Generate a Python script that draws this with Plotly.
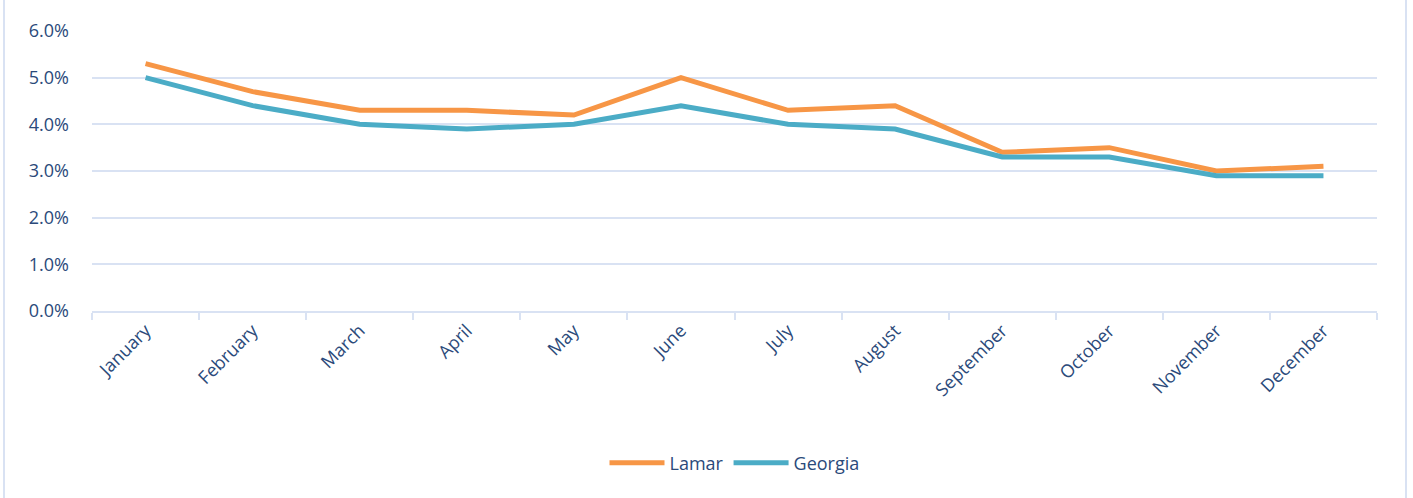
import plotly.graph_objects as go

months = ["January", "February", "March", "April", "May", "June", "July",
          "August", "September", "October", "November", "December"]
lamar = [5.3, 4.7, 4.3, 4.3, 4.2, 5.0, 4.3, 4.4, 3.4, 3.5, 3.0, 3.1]
georgia = [5.0, 4.4, 4.0, 3.9, 4.0, 4.4, 4.0, 3.9, 3.3, 3.3, 2.9, 2.9]
y_ticks = [0, 1, 2, 3, 4, 5, 6]

text_color = "#2B4A7A"
grid_color = "#D9E2F3"
font_family = "'Open Sans', Lato, sans-serif"

fig = go.Figure()
fig.add_trace(go.Scatter(x=months, y=[v / 100 for v in lamar], name="Lamar",
                         mode="lines", line=dict(color="#F79646", width=5)))
fig.add_trace(go.Scatter(x=months, y=[v / 100 for v in georgia], name="Georgia",
                         mode="lines", line=dict(color="#4BACC6", width=5)))

W, H = 1413, 498
l, t = 92, 31
pw, ph = 1285, 280
r, b = W - l - pw, H - t - ph

def px_to_paper_x(px):
    return (px - l) / pw

def px_to_paper_y(py):
    return (t + ph - py) / ph

shapes = []
for xp in (4, 1406):
    shapes.append(dict(type="line", xref="paper", yref="paper",
                       x0=px_to_paper_x(xp), x1=px_to_paper_x(xp),
                       y0=px_to_paper_y(0), y1=px_to_paper_y(H),
                       line=dict(color=grid_color, width=2)))

fig.update_layout(
    width=W, height=H,
    margin=dict(l=l, r=r, t=t, b=b, autoexpand=False),
    paper_bgcolor="white", plot_bgcolor="white",
    font=dict(family=font_family, size=18, color=text_color),
    showlegend=True,
    legend=dict(orientation="h", x=0.5, xanchor="center",
                y=px_to_paper_y(463), yanchor="middle",
                font=dict(size=18, color=text_color), itemwidth=55),
    xaxis=dict(type="category", tickangle=-45, tickson="boundaries",
               ticks="outside", ticklen=7, tickcolor=grid_color, tickwidth=2,
               showline=True, linecolor=grid_color, linewidth=2,
               showgrid=False, range=[-0.5, 11.5],
               tickfont=dict(size=18, color=text_color)),
    yaxis=dict(range=[0, 0.06], tickvals=[v / 100 for v in y_ticks],
               tickformat=".1%", showgrid=True, gridcolor=grid_color,
               gridwidth=2, zeroline=False, showline=False,
               ticklabelstandoff=22,
               tickfont=dict(size=18, color=text_color)),
    shapes=shapes,
)

fig.write_html("out.html",
               config={"displayModeBar": False},
               post_script="document.body.style.margin='0';"
                           "document.body.style.overflow='hidden';")
